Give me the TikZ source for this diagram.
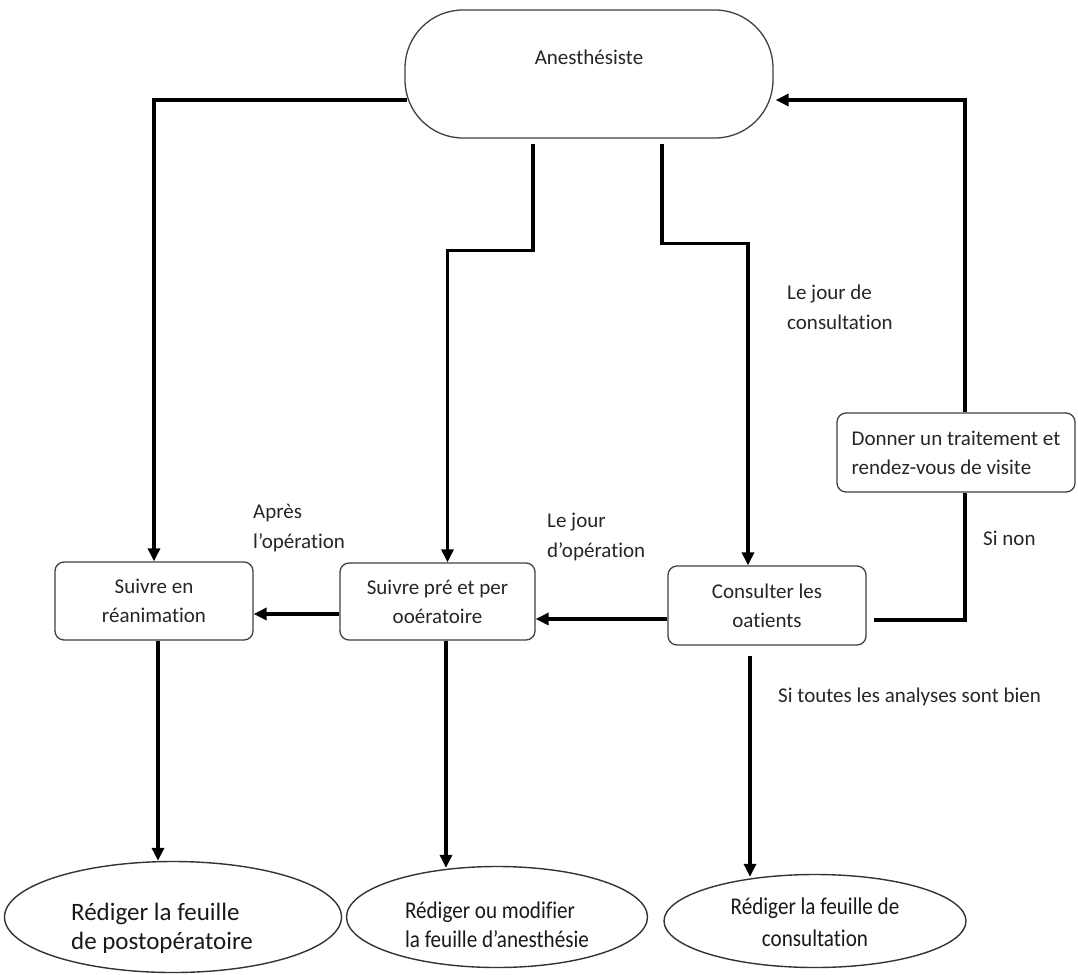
\documentclass[tikz,border=0pt]{standalone}
\usepackage{fontspec}
\setmainfont{Carlito}[Ligatures=NoCommon]
\usetikzlibrary{arrows.meta,shapes.geometric}
\begin{document}
\begin{tikzpicture}[x=1pt,y=-1pt,
  box/.style={draw=black!75, line width=1.3pt, rounded corners=9pt, fill=white,
    inner sep=0pt, align=center, text=black!85, font=\fontsize{21}{29}\selectfont},
  oval/.style={draw=black!80, line width=1.4pt, ellipse, inner sep=0pt, text=black!90},
  conn/.style={line width=3.2pt, black},
  arr/.style={conn, -{Triangle[length=13pt,width=12pt]}},
  lbl/.style={anchor=west, align=left, inner sep=0pt, text=black!85,
    font=\fontsize{21}{30}\selectfont},
]
\useasboundingbox (0,0) rectangle (1078,974);

% actor
\node[box, rounded corners=58pt, minimum width=368pt, text height=55pt, text depth=73pt]
  (anes) at (589,74) {Anesthésiste};

% activities
\node[box, minimum width=198pt, minimum height=78pt] (rea) at (154,601) {Suivre en\\réanimation};
\node[box, minimum width=195pt, minimum height=77pt] (pre) at (437.5,601.5) {Suivre pré et per\\ooératoire};
\node[box, minimum width=198pt, minimum height=79pt] (cons) at (767,605.5) {Consulter les\\oatients};
\node[box, minimum width=238pt, minimum height=79pt, align=left] (trait) at (956,452.5)
  {Donner un traitement et\\rendez-vous de visite};

% documents (text lowered inside the ovals)
\node[oval, minimum width=337pt, minimum height=111pt] (postop) at (173,917)
  {\raisebox{-18pt}[0pt][0pt]{\fontsize{25}{29}\selectfont\begin{tabular}{@{}l@{}}Rédiger la feuille\\de postopératoire\end{tabular}}\hspace*{22pt}};
\node[oval, minimum width=301pt, minimum height=101pt] (anesf) at (497,917)
  {\raisebox{-16pt}[0pt][0pt]{\scalebox{0.88}[1]{\fontsize{24}{29}\selectfont\begin{tabular}{@{}l@{}}Rédiger ou modifier\\la feuille d’anesthésie\end{tabular}}}};
\node[oval, minimum width=302pt, minimum height=93pt] (consf) at (815,921)
  {\raisebox{-9pt}[0pt][0pt]{\scalebox{0.88}[1]{\fontsize{24}{32}\selectfont\begin{tabular}{@{}c@{}}Rédiger la feuille de\\consultation\end{tabular}}}};

% labels
\node[lbl] (apres) at (253,528) {Après\\l’opération};
\node[lbl] (jop) at (547,537) {Le jour\\d’opération};
\node[lbl] (jcons) at (787,307) {Le jour de\\consultation};
\node[lbl] (sinon) at (983,538) {Si non};
\node[lbl] (sitout) at (778,697) {Si toutes les analyses sont bien};

% connectors from the actor
\draw[arr] ([xshift=3pt,yshift=-26pt]anes.west) -| (rea.north);
\draw[arr] ([xshift=-56pt,yshift=-5pt]anes.south) -- ++(0,107) -| ([xshift=10pt]pre.north);
\draw[arr] ([xshift=73pt,yshift=-5pt]anes.south) -- ++(0,100) -| ([xshift=-19pt]cons.north);

% loop back through the treatment
\draw[conn] ([xshift=7pt,yshift=-14.5pt]cons.east) -| ([xshift=9pt]trait.south);
\draw[arr] ([xshift=9pt]trait.north) |- ([xshift=2pt,yshift=-26pt]anes.east);

% horizontal flow between activities
\coordinate (cw) at ([yshift=-13.5pt]cons.west);
\draw[arr] (cw) -- (cw -| pre.east);
\coordinate (pw) at ([yshift=-12.5pt]pre.west);
\draw[arr] (pw) -- (pw -| rea.east);

% activities to documents
\coordinate (r1) at ([xshift=4pt]rea.south);
\draw[arr] (r1) -- (r1 |- postop.north);
\coordinate (p1) at ([xshift=8.5pt]pre.south);
\coordinate (p2) at ([yshift=-2pt]anesf.north);
\draw[arr] (p1) -- (p1 |- p2);
\coordinate (c1) at ([xshift=-17pt,yshift=-10pt]cons.south);
\coordinate (c2) at ([yshift=-3pt]consf.north);
\draw[arr] (c1) -- (c1 |- c2);
\end{tikzpicture}
\end{document}
